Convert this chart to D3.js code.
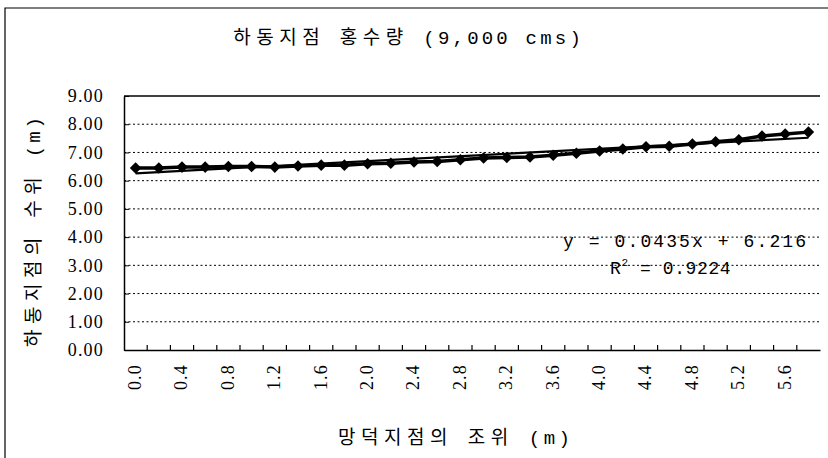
<!DOCTYPE html>
<html><head><meta charset="utf-8">
<script src="https://cdn.jsdelivr.net/npm/d3@7"></script>
<style>body{margin:0;background:#fff}svg{display:block}</style>
</head><body><svg id="c" width="828" height="458"></svg>
<script>
const categories = ["0.0","0.2","0.4","0.6","0.8","1.0","1.2","1.4","1.6","1.8","2.0","2.2","2.4","2.6","2.8","3.0","3.2","3.4","3.6","3.8","4.0","4.2","4.4","4.6","4.8","5.0","5.2","5.4","5.6","5.8"];
const levels = [6.45,6.45,6.48,6.48,6.50,6.50,6.48,6.52,6.55,6.55,6.60,6.62,6.66,6.68,6.74,6.80,6.82,6.84,6.90,6.97,7.05,7.12,7.20,7.22,7.30,7.38,7.45,7.58,7.65,7.72];
const xLabels = ["0.0","0.4","0.8","1.2","1.6","2.0","2.4","2.8","3.2","3.6","4.0","4.4","4.8","5.2","5.6"];
const yTicks = [0,1,2,3,4,5,6,7,8,9];
const trendSlope = 0.0435, trendIntercept = 6.216, rSquared = "0.9224";
const title = "하동지점 홍수량 (9,000 cms)";
const yTitle = "하동지점의 수위 (m)";
const xTitle = "망덕지점의 조위 (m)";

const svg = d3.select("#c");
const L = 124, R = 820, T = 96, B = 350;
const x = d3.scaleBand().domain(categories).range([L, R]).padding(0);
const y = d3.scaleLinear().domain([0, 9]).range([B, T]);
const cx = c => x(c) + x.bandwidth() / 2;

// outer frame
svg.append("path").attr("d", `M5,458V8H828`).attr("fill","none").attr("stroke","#000").attr("stroke-width",1.2);

// gridlines
svg.append("g").selectAll("line").data(yTicks.filter(v => v > 0 && v < 9)).join("line")
  .attr("x1", L).attr("x2", R).attr("y1", d => y(d)).attr("y2", d => y(d))
  .attr("stroke", "#000").attr("stroke-width", 1).attr("stroke-dasharray", "2,2.5");
svg.append("line").attr("x1", L).attr("x2", R).attr("y1", y(9)).attr("y2", y(9)).attr("stroke","#000").attr("stroke-width",1.5);

// y axis
const yAxis = svg.append("g").attr("transform", `translate(${L},0)`)
  .call(d3.axisLeft(y).tickValues(yTicks).tickFormat(d3.format(".2f")).tickSizeInner(-5).tickSizeOuter(0).tickPadding(20));
yAxis.select(".domain").attr("stroke-width", 1.5);
yAxis.selectAll("text").attr("font-family", "'Liberation Serif', serif").attr("font-size", 18).attr("letter-spacing", 1.2).attr("fill","#000");

// x axis
const xAxis = svg.append("g").attr("transform", `translate(0,${B})`)
  .call(d3.axisBottom(x).tickValues(xLabels).tickSize(0).tickPadding(0));
xAxis.select(".domain").attr("stroke-width", 1.5);
xAxis.selectAll("text").attr("font-family", "'Liberation Serif', serif").attr("font-size", 18).attr("letter-spacing", 1.2)
  .attr("fill","#000").attr("text-anchor","end").attr("transform","rotate(-90)")
  .attr("x", -14).attr("y", -1).attr("dy", "0.35em");
svg.append("g").selectAll("line").data(categories.slice(1)).join("line")
  .attr("x1", d => x(d)).attr("x2", d => x(d)).attr("y1", B).attr("y2", B - 5)
  .attr("stroke", "#000").attr("stroke-width", 1.2);

// trendline (Excel: x = 1..n)
const trend = categories.map((c, i) => [cx(c), y(trendSlope * (i + 1) + trendIntercept)]);
svg.append("path").attr("d", d3.line()([trend[0], trend[trend.length - 1]]))
  .attr("stroke", "#000").attr("stroke-width", 2.2).attr("fill", "none");

// data line
svg.append("path").datum(levels)
  .attr("d", d3.line().x((d, i) => cx(categories[i])).y(d => y(d)))
  .attr("stroke", "#000").attr("stroke-width", 3.5).attr("fill", "none");
svg.append("g").selectAll("path").data(levels).join("path")
  .attr("transform", (d, i) => `translate(${cx(categories[i])},${y(d)})`)
  .attr("d", d3.symbol(d3.symbolDiamond2, 85)).attr("fill", "#000");

// spaced text helper: each character as a tspan with extra advance
function spaced(sel, str, kGap, aGap) {
  const chars = [...str];
  chars.forEach((ch, i) => {
    const prev = chars[i - 1];
    const g = i === 0 ? 0 : (prev.charCodeAt(0) > 0x1100 ? kGap : aGap);
    sel.append("tspan").attr("dx", g).text(ch);
  });
  return sel;
}
const kfont = "'Liberation Mono', 'Noto Sans CJK KR', monospace";
spaced(svg.append("text").attr("x", 407).attr("y", 44).attr("text-anchor","middle")
  .attr("font-family", kfont).attr("font-size", 19).attr("xml:space","preserve"), title, 5.5, 3.2);
spaced(svg.append("text").attr("transform", "translate(40,232) rotate(-90)").attr("text-anchor","middle")
  .attr("font-family", kfont).attr("font-size", 19).attr("xml:space","preserve"), yTitle, 5.5, 3);
spaced(svg.append("text").attr("x", 454).attr("y", 444).attr("text-anchor","middle")
  .attr("font-family", kfont).attr("font-size", 19).attr("xml:space","preserve"), xTitle, 5.5, 3.5);

svg.append("text").attr("x", 563).attr("y", 247)
  .attr("font-family", "'Liberation Mono', monospace").attr("font-size", 18).attr("textLength", 243).attr("lengthAdjust","spacing")
  .text(`y = ${trendSlope}x + ${trendIntercept}`);
const r2 = svg.append("text").attr("x", 610).attr("y", 274)
  .attr("font-family", "'Liberation Mono', monospace").attr("font-size", 18).attr("letter-spacing", 0.6);
r2.append("tspan").text("R");
r2.append("tspan").attr("font-size", 11).attr("dy", -8).text("2");
r2.append("tspan").attr("dy", 8).text(` = ${rSquared}`);
</script></body></html>
